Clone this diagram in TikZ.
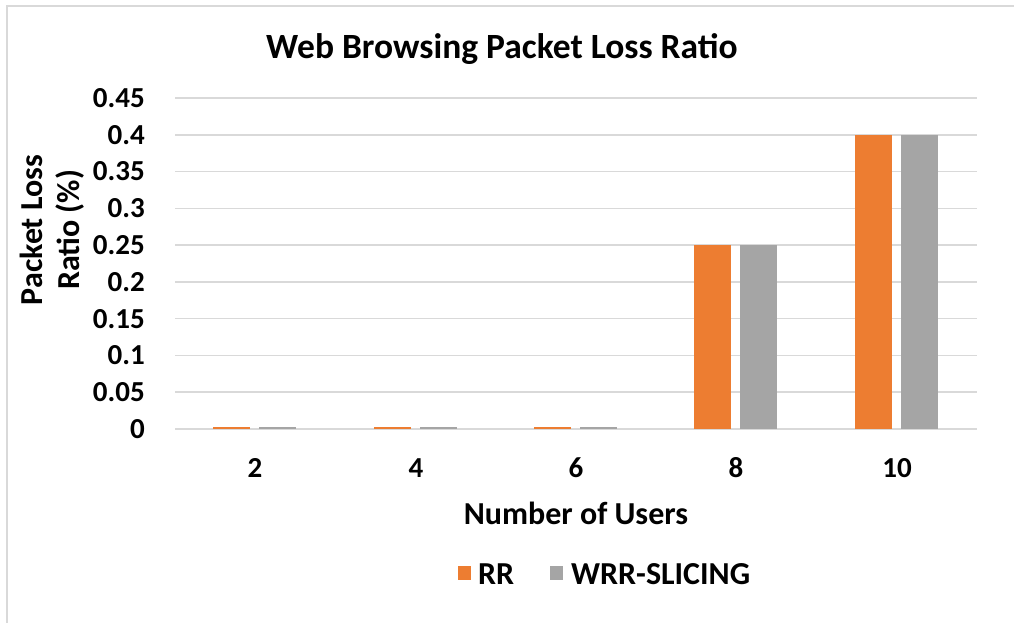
\documentclass[tikz,border=0pt]{standalone}
\usepackage{fontspec}
\setmainfont{Carlito}
\definecolor{barorange}{HTML}{ED7D31}
\definecolor{bargray}{HTML}{A5A5A5}
\definecolor{gridgray}{HTML}{D9D9D9}
\begin{document}
\begin{tikzpicture}[x=1pt,y=-1pt,
  gridline/.style={draw=gridgray,line width=1.6pt},
  ticklabel/.style={font=\bfseries\fontsize{29}{34}\selectfont,anchor=east,inner sep=0pt},
  catlabel/.style={font=\bfseries\fontsize{29}{34}\selectfont,inner sep=0pt},
  axistitle/.style={font=\bfseries\fontsize{32}{37}\selectfont,inner sep=0pt,align=center},
  charttitle/.style={font=\bfseries\fontsize{35.5}{40}\selectfont,inner sep=0pt},
  legendtext/.style={font=\bfseries\fontsize{32}{37}\selectfont,inner sep=0pt,anchor=west},
  rrbar/.style={fill=barorange,draw=none},
  wrrbar/.style={fill=bargray,draw=none}]
\useasboundingbox (0,0) rectangle (1014,623);
\fill[white] (0,0) rectangle (1014,623);
% chart frame
\draw[draw=gridgray,line width=2pt] (7,630) -- (7,6) -- (1020,6);

% horizontal gridlines and value labels (0.05 steps)
\foreach \k/\lab in {0/0,1/0.05,2/0.1,3/0.15,4/0.2,5/0.25,6/0.3,7/0.35,8/0.4,9/0.45}{
  \coordinate (gl\k) at (175,{429-36.78*\k});
  \coordinate (gr\k) at (977,{429-36.78*\k});
  \draw[gridline] (gl\k) -- (gr\k);
  \node[ticklabel] (tick\k) at (145,{429-36.78*\k}) {\lab};
}

% bars: value scale 735.6 px per unit
\foreach \i/\c/\lab/\v in {1/255/2/0.003,2/416/4/0.003,3/576/6/0.003,4/736/8/0.25,5/897/10/0.4}{
  \fill[rrbar]  ({\c-42},429) rectangle ({\c-5},{429-735.6*\v});
  \fill[wrrbar] ({\c+4},429)  rectangle ({\c+41},{429-735.6*\v});
  \node[catlabel] (cat\i) at (\c,468) {\lab};
}

% titles
\node[charttitle] (title) at (502,49) {Web Browsing Packet Loss Ratio};
\node[axistitle] (xtitle) at (576,513) {Number of Users};
\node[axistitle,rotate=90] (ytitle) at (52,230) {Packet Loss\\Ratio (\%)};

% legend
\fill[barorange] (458,566) rectangle (471,580);
\node[legendtext] (legrr) at (478,574) {RR};
\fill[bargray] (550,566) rectangle (563,580);
\node[legendtext] (legwrr) at (571,574) {WRR-SLICING};
\end{tikzpicture}
\end{document}
